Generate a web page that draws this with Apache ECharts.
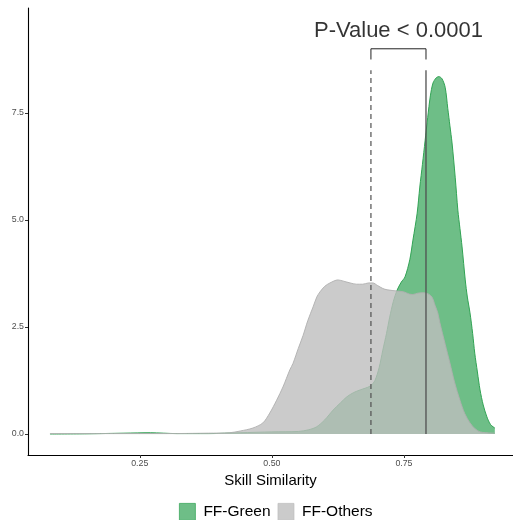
<!DOCTYPE html>
<html>
<head>
<meta charset="utf-8">
<script src="https://cdn.jsdelivr.net/npm/echarts@6/dist/echarts.min.js"></script>
<style>
html,body{margin:0;padding:0;background:#fff;}
#c{width:513px;height:520px;}
</style>
</head>
<body>
<div id="c"></div>
<script>
// ---- Data ----
const seriesNames = ['FF-Green', 'FF-Others'];

const greenX = [0.08,0.15,0.22,0.27,0.32,0.38,0.44,0.50,0.55,0.57,0.585,0.60,0.616,0.63,0.642,0.655,0.667,0.686,0.695,0.703,0.710,0.717,0.723,0.730,0.737,0.745,0.752,0.761,0.767,0.775,0.780,0.785,0.790,0.795,0.800,0.805,0.811,0.816,0.822,0.828,0.833,0.837,0.841,0.847,0.852,0.856,0.860,0.866,0.870,0.875,0.880,0.884,0.889,0.894,0.900,0.907,0.914,0.922];
const greenY = [0.00,0.005,0.02,0.03,0.01,0.01,0.03,0.05,0.06,0.10,0.17,0.33,0.56,0.73,0.87,0.97,1.03,1.12,1.25,1.55,1.96,2.35,2.73,3.10,3.36,3.55,3.67,4.07,4.53,5.16,5.77,6.30,6.85,7.40,7.90,8.20,8.32,8.35,8.30,8.10,7.60,7.20,6.80,6.00,5.23,4.80,4.37,3.60,3.20,2.83,2.35,1.89,1.45,1.03,0.68,0.40,0.22,0.14];

const grayX = [0.08,0.20,0.30,0.38,0.42,0.44,0.464,0.483,0.496,0.509,0.521,0.534,0.540,0.550,0.559,0.568,0.578,0.585,0.591,0.600,0.610,0.625,0.636,0.648,0.660,0.672,0.683,0.691,0.700,0.710,0.718,0.737,0.750,0.760,0.767,0.776,0.786,0.795,0.803,0.809,0.814,0.818,0.828,0.837,0.846,0.856,0.865,0.875,0.885,0.894,0.905,0.922];
const grayY = [0.01,0.01,0.01,0.02,0.03,0.07,0.14,0.26,0.49,0.79,1.10,1.50,1.65,2.00,2.30,2.65,2.97,3.20,3.32,3.45,3.53,3.60,3.57,3.53,3.50,3.50,3.53,3.53,3.47,3.40,3.37,3.34,3.32,3.27,3.26,3.29,3.30,3.28,3.20,3.00,2.83,2.60,2.10,1.66,1.20,0.79,0.48,0.26,0.12,0.05,0.03,0.02];

const xTicks = [0.25, 0.50, 0.75];
const yTicks = [0.0, 2.5, 5.0, 7.5];

// annotation values (data space)
const meanOthers = 0.6875;   // dashed line
const meanGreen = 0.7917;    // solid line
const vLineTop = 8.5;
const bracketY = 9.0;
const bracketTickY = 8.75;
const pLabelY = 9.41;
const pLabelText = 'P-Value < 0.0001';

// ---- Build ----
const zip = (xs, ys) => xs.map((x, i) => [x, ys[i]]);
const FONT = '"Liberation Sans", Arial, sans-serif';
const greenLine = 'rgb(49,163,84)';
const greenFill = 'rgba(49,163,84,0.7)';
const grayLine = 'rgba(175,175,175,0.9)';
const grayFill = 'rgba(190,190,190,0.8)';
const annColor = '#505050';

const chart = echarts.init(document.getElementById('c'), null, {renderer: 'canvas'});
chart.setOption({
  animation: false,
  backgroundColor: '#ffffff',
  textStyle: {fontFamily: FONT},
  grid: {left: 28, right: 0, top: 8, bottom: 65, containLabel: false, outerBoundsMode: 'none'},
  legend: {
    top: 498,
    left: 174,
    icon: 'rect',
    itemWidth: 16,
    itemHeight: 17,
    itemGap: 7,
    textStyle: {fontSize: 15.5, color: '#000', fontFamily: FONT, padding: [0, 0, 0, 3]},
    data: [
      {name: seriesNames[0], itemStyle: {color: greenFill, borderColor: 'rgba(49,163,84,0.9)', borderWidth: 0.8}},
      {name: seriesNames[1], itemStyle: {color: grayFill, borderColor: 'rgba(190,190,190,0.9)', borderWidth: 0.8}}
    ]
  },
  xAxis: {
    type: 'value',
    min: 0.0384,
    max: 0.9564,
    name: 'Skill Similarity',
    nameLocation: 'middle',
    nameGap: 14,
    nameTextStyle: {fontSize: 15, color: '#000', fontFamily: FONT},
    axisLine: {onZero: false, lineStyle: {color: '#000', width: 1.1}},
    axisTick: {show: true, length: 3, customValues: xTicks, lineStyle: {color: '#333'}},
    axisLabel: {customValues: xTicks, fontSize: 8.8, color: '#4d4d4d', margin: 4,
      formatter: v => v.toFixed(2)},
    splitLine: {show: false}
  },
  yAxis: {
    type: 'value',
    min: -0.49,
    max: 9.953,
    axisLine: {onZero: false, lineStyle: {color: '#000', width: 1.1}},
    axisTick: {show: true, length: 3, customValues: yTicks, lineStyle: {color: '#333'}},
    axisLabel: {customValues: yTicks, fontSize: 8.8, color: '#4d4d4d', margin: 4,
      formatter: v => v.toFixed(1)},
    splitLine: {show: false}
  },
  series: [
    {
      name: seriesNames[0], type: 'line', data: zip(greenX, greenY),
      showSymbol: false, smooth: 0.3, z: 2,
      lineStyle: {color: greenLine, width: 1},
      itemStyle: {color: greenFill},
      areaStyle: {color: greenFill, opacity: 1, origin: 0}
    },
    {
      name: seriesNames[1], type: 'line', data: zip(grayX, grayY),
      showSymbol: false, smooth: 0.3, z: 3,
      lineStyle: {color: grayLine, width: 1},
      itemStyle: {color: grayFill},
      areaStyle: {color: grayFill, opacity: 1, origin: 0}
    },
    {
      name: 'dashed', type: 'line', data: [[meanOthers, 0], [meanOthers, vLineTop]],
      showSymbol: false, z: 5, silent: true,
      lineStyle: {color: annColor, width: 1.2, type: [5, 4]}
    },
    {
      name: 'solid', type: 'line', data: [[meanGreen, 0], [meanGreen, vLineTop]],
      showSymbol: false, z: 5, silent: true,
      lineStyle: {color: annColor, width: 1.3}
    },
    {
      name: 'bracket', type: 'line',
      data: [[meanOthers, bracketTickY], [meanOthers, bracketY], [meanGreen, bracketY], [meanGreen, bracketTickY]],
      showSymbol: false, z: 5, silent: true,
      lineStyle: {color: '#222', width: 1}
    },
    {
      name: 'pval', type: 'scatter', symbolSize: 0, z: 6, silent: true,
      data: [[(meanOthers + meanGreen) / 2, pLabelY]],
      label: {show: true, position: 'inside', formatter: pLabelText, fontSize: 22, color: '#000', fontFamily: FONT}
    }
  ]
});
</script>
</body>
</html>
